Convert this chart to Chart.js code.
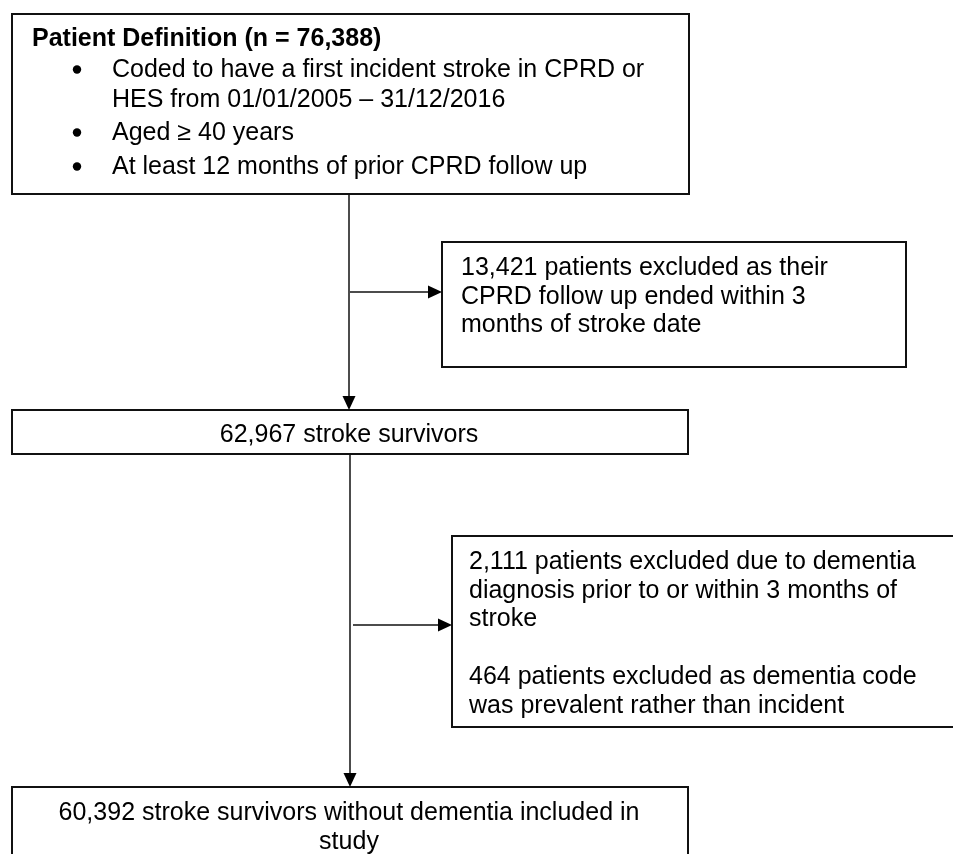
<!DOCTYPE html>
<html>
<head>
<meta charset="utf-8">
<script src="https://cdn.jsdelivr.net/npm/chart.js@4/dist/chart.umd.min.js"></script>
<style>
  html, body { margin: 0; padding: 0; background: #fff; }
  #wrap { width: 953px; height: 854px; position: relative; }
</style>
</head>
<body>
<div id="wrap"><canvas id="flow"></canvas></div>
<script>
// Cohort counts
const cohortCounts = [76388, 62967, 60392];
const excludedCounts = [13421, 2111, 464];

const fmt = n => n.toLocaleString('en-GB');

// Text of each box
const titleText = `Patient Definition (n = ${fmt(cohortCounts[0])})`;
const criteriaLines = [
  ['Coded to have a first incident stroke in CPRD or', 'HES from 01/01/2005 \u2013 31/12/2016'],
  ['Aged \u2265 40 years'],
  ['At least 12 months of prior CPRD follow up']
];
const survivorLines = [`${fmt(cohortCounts[1])} stroke survivors`];
const exclusionOneLines = [
  `${fmt(excludedCounts[0])} patients excluded as their`,
  'CPRD follow up ended within 3',
  'months of stroke date'
];
const exclusionTwoLines = [
  `${fmt(excludedCounts[1])} patients excluded due to dementia`,
  'diagnosis prior to or within 3 months of',
  'stroke',
  '',
  `${excludedCounts[2]} patients excluded as dementia code`,
  'was prevalent rather than incident'
];
const finalLines = [`${fmt(cohortCounts[2])} stroke survivors without dementia included in`, 'study'];

// Layout (in axis units, the axes run 0..953 and 0..854 top-down)
const boxLayout = {
  definition: { x0: 12, y0: 14, x1: 689, y1: 194 },
  exclusionOne: { x0: 442, y0: 242, x1: 906, y1: 367 },
  survivors: { x0: 12, y0: 410, x1: 688, y1: 454 },
  exclusionTwo: { x0: 452, y0: 536, x1: 965, y1: 727 },
  final: { x0: 12, y0: 787, x1: 688, y1: 880 }
};
const arrowLayout = [
  { from: [349, 194], to: [349, 410] },
  { from: [350, 292], to: [442, 292] },
  { from: [350, 454], to: [350, 787] },
  { from: [353, 625], to: [452, 625] }
];

const FONT = '"Liberation Sans", Arial, sans-serif';
const FONT_SIZE = 25;
const LINE_STEP = 28.7;

const flowPlugin = {
  id: 'flow',
  afterDraw(chart) {
    const { ctx } = chart;
    const xs = chart.scales.x, ys = chart.scales.y;
    const px = v => xs.getPixelForValue(v);
    const py = v => ys.getPixelForValue(v);

    ctx.save();
    // boxes
    ctx.strokeStyle = '#111';
    ctx.lineWidth = 2;
    Object.values(boxLayout).forEach(b => {
      ctx.strokeRect(px(b.x0), py(b.y0), px(b.x1) - px(b.x0), py(b.y1) - py(b.y0));
    });

    // connectors with arrow heads
    ctx.lineWidth = 1.5;
    ctx.fillStyle = '#000';
    arrowLayout.forEach(a => {
      const x0 = px(a.from[0]), y0 = py(a.from[1]);
      const x1 = px(a.to[0]), y1 = py(a.to[1]);
      const ang = Math.atan2(y1 - y0, x1 - x0);
      const len = 14, half = 6.5;
      ctx.beginPath();
      ctx.moveTo(x0, y0);
      ctx.lineTo(x1 - Math.cos(ang) * len, y1 - Math.sin(ang) * len);
      ctx.stroke();
      ctx.beginPath();
      ctx.moveTo(x1, y1);
      ctx.lineTo(x1 - Math.cos(ang) * len - Math.sin(ang) * half, y1 - Math.sin(ang) * len + Math.cos(ang) * half);
      ctx.lineTo(x1 - Math.cos(ang) * len + Math.sin(ang) * half, y1 - Math.sin(ang) * len - Math.cos(ang) * half);
      ctx.closePath();
      ctx.fill();
    });

    // text
    ctx.fillStyle = '#000';
    ctx.textBaseline = 'alphabetic';
    ctx.textAlign = 'left';
    ctx.font = `bold ${FONT_SIZE}px ${FONT}`;
    ctx.fillText(titleText, px(32), py(46));

    ctx.font = `${FONT_SIZE}px ${FONT}`;
    const bulletBase = [77, 140, 174];
    criteriaLines.forEach((item, i) => {
      ctx.beginPath();
      ctx.arc(px(77), py(bulletBase[i] - 7.5), 4.2, 0, Math.PI * 2);
      ctx.fill();
      item.forEach((line, j) => ctx.fillText(line, px(112), py(bulletBase[i] + j * 30)));
    });

    exclusionOneLines.forEach((line, i) => ctx.fillText(line, px(461), py(275 + i * LINE_STEP)));
    exclusionTwoLines.forEach((line, i) => ctx.fillText(line, px(469), py(569 + i * LINE_STEP)));

    ctx.textAlign = 'center';
    survivorLines.forEach((line, i) => ctx.fillText(line, px(349), py(442 + i * LINE_STEP)));
    finalLines.forEach((line, i) => ctx.fillText(line, px(349), py(820 + i * LINE_STEP)));
    ctx.restore();
  }
};

new Chart(document.getElementById('flow'), {
  type: 'scatter',
  data: { datasets: [{ data: [], pointRadius: 0 }] },
  options: {
    responsive: true,
    maintainAspectRatio: false,
    animation: false,
    layout: { padding: 0 },
    plugins: { legend: { display: false }, tooltip: { enabled: false } },
    scales: {
      x: { type: 'linear', min: 0, max: 953, display: false },
      y: { type: 'linear', min: 0, max: 854, reverse: true, display: false }
    }
  },
  plugins: [flowPlugin]
});
</script>
</body>
</html>
